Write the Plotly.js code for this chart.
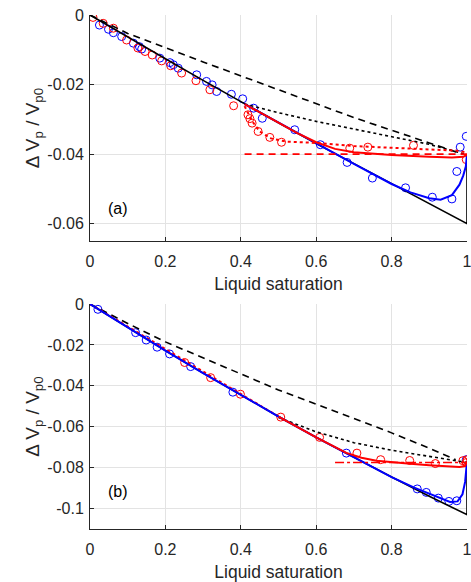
<!DOCTYPE html>
<html>
<head>
<meta charset="utf-8">
<script src="https://cdn.plot.ly/plotly-3.0.1.min.js"></script>
<style>html,body{margin:0;padding:0;background:#fff;}#chart{width:471px;height:582px;}</style>
</head>
<body>
<div id="chart"></div>
<script>
// ---------- Panel (a) data ----------
const aBlueCircX = [0.025,0.049,0.062,0.084,0.115,0.131,0.137,0.185,0.212,0.221,0.234,0.283,0.309,0.324,0.336,0.375,0.405,0.434,0.457,0.543,0.611,0.682,0.749,0.837,0.908,0.960,0.973,0.982,0.998];
const aBlueCircY = [-0.0029,-0.0041,-0.0051,-0.0062,-0.0081,-0.0091,-0.0098,-0.0124,-0.0137,-0.0143,-0.0153,-0.0172,-0.0191,-0.0201,-0.0220,-0.0228,-0.0241,-0.0268,-0.0297,-0.0330,-0.0373,-0.0424,-0.0469,-0.0497,-0.0524,-0.0529,-0.0450,-0.0380,-0.0349];
const aRedCircX = [0.008,0.035,0.062,0.097,0.127,0.146,0.165,0.190,0.214,0.243,0.281,0.318,0.381,0.419,0.424,0.430,0.446,0.477,0.508,0.689,0.737,0.858,0.998];
const aRedCircY = [-0.0007,-0.0024,-0.0038,-0.0072,-0.0095,-0.0105,-0.0115,-0.0132,-0.0146,-0.0167,-0.0189,-0.0215,-0.0261,-0.0287,-0.0298,-0.0311,-0.0335,-0.0352,-0.0366,-0.0383,-0.0380,-0.0375,-0.0416];
const aBlackX = [0,0.1,0.2,0.3,0.4,0.5,0.6,0.7,0.8,0.9,1,1];
const aBlackY = [0,-0.0064,-0.0126,-0.0188,-0.0250,-0.0310,-0.0370,-0.0428,-0.0486,-0.0544,-0.0600,-0.0405];
const aDashX = [0,0.1,0.3,0.5,0.7,0.9,0.98];
const aDashY = [0,-0.0053,-0.0135,-0.0215,-0.0295,-0.0368,-0.0397];
const aDotX = [0.41,0.5,0.6,0.7,0.8,0.9,1];
const aDotY = [-0.0256,-0.0281,-0.0306,-0.0328,-0.0350,-0.0372,-0.0402];
const aBlueLineX = [0.41,0.5,0.6,0.7,0.8,0.85,0.9,0.93,0.96,0.98,0.99,0.997,1];
const aBlueLineY = [-0.0256,-0.0310,-0.0370,-0.0428,-0.0486,-0.0510,-0.0527,-0.0531,-0.0518,-0.0488,-0.0462,-0.0435,-0.0400];
const aRedLineX = [0.41,0.45,0.5,0.55,0.6,0.65,0.7,0.8,0.9,0.96,0.99,1];
const aRedLineY = [-0.0256,-0.0280,-0.0310,-0.0340,-0.0366,-0.0385,-0.0395,-0.0403,-0.0408,-0.0410,-0.0408,-0.0402];
const aRedDashX = [0.41,1];
const aRedDashY = [-0.040,-0.040];
const aRedDotX = [0.41,0.43,0.45,0.48,0.52,0.6,0.7,0.8,0.9,0.97,1];
const aRedDotY = [-0.0262,-0.0305,-0.0335,-0.0355,-0.0364,-0.0368,-0.0377,-0.0382,-0.0386,-0.0390,-0.0395];

// ---------- Panel (b) data ----------
const bBlueCircX = [0.021,0.121,0.149,0.178,0.211,0.267,0.379,0.680,0.868,0.892,0.924,0.952,0.973,0.998];
const bBlueCircY = [-0.0026,-0.0140,-0.0176,-0.0211,-0.0244,-0.0306,-0.0431,-0.0729,-0.0904,-0.0921,-0.0949,-0.0965,-0.0962,-0.0761];
const bRedCircX = [0.251,0.320,0.399,0.506,0.609,0.708,0.771,0.848,0.916,0.989,0.998,1.0];
const bRedCircY = [-0.0286,-0.0360,-0.0441,-0.0553,-0.0652,-0.0729,-0.0761,-0.0765,-0.0780,-0.0766,-0.0775,-0.0762];
const bBlackX = [0,0.1,0.2,0.3,0.4,0.5,0.6,0.7,0.8,0.9,1,1];
const bBlackY = [0,-0.0116,-0.0228,-0.0338,-0.0446,-0.0550,-0.0652,-0.0750,-0.0846,-0.0940,-0.1030,-0.0770];
const bDashX = [0,0.1,0.2,0.3,0.42,0.5,0.6,0.7,0.8,0.9,0.97];
const bDashY = [0,-0.0095,-0.0185,-0.0263,-0.0355,-0.0420,-0.0490,-0.0560,-0.0630,-0.0705,-0.0761];
const bDotX = [0.5,0.6,0.7,0.8,0.9,0.98,1];
const bDotY = [-0.0555,-0.0625,-0.0678,-0.0715,-0.0745,-0.0770,-0.0775];
const bBlueLineX = [0,0.1,0.2,0.3,0.4,0.5,0.6,0.7,0.8,0.86,0.9,0.93,0.955,0.975,0.988,0.995,1];
const bBlueLineY = [0,-0.0116,-0.0228,-0.0338,-0.0446,-0.0550,-0.0652,-0.0750,-0.0846,-0.0898,-0.0928,-0.0952,-0.0968,-0.0965,-0.0930,-0.0870,-0.0770];
const bRedLineX = [0.5,0.6,0.68,0.72,0.76,0.8,0.85,0.9,0.95,0.98,0.995,1];
const bRedLineY = [-0.0550,-0.0652,-0.0728,-0.0752,-0.0766,-0.0774,-0.0781,-0.0788,-0.0794,-0.0797,-0.0792,-0.0770];
const bRedDotX = [0,0.5];
const bRedDotY = [0,-0.0550];
const bRedDashDotX = [0.65,1];
const bRedDashDotY = [-0.0775,-0.0775];

// ---------- Ticks / labels ----------
const xTickVals = [0,0.2,0.4,0.6,0.8,1];
const xTickText = ['0','0.2','0.4','0.6','0.8','1'];
const aYTickVals = [0,-0.02,-0.04,-0.06];
const aYTickText = ['0','-0.02','-0.04','-0.06'];
const bYTickVals = [0,-0.02,-0.04,-0.06,-0.08,-0.1];
const bYTickText = ['0','-0.02','-0.04','-0.06','-0.08','-0.1'];
const xTitle = 'Liquid saturation';
const yTitle = '\u0394 V<sub>p</sub> / V<sub>p0</sub>';
const panelLabels = ['(a)','(b)'];

const BLUE = '#0000ff', RED = '#ff0000', BLACK = '#000000';

function circ(x, y, c, xa, ya) {
  return {x, y, xaxis: xa, yaxis: ya, type: 'scatter', mode: 'markers', hoverinfo: 'skip',
    marker: {symbol: 'circle-open', size: 8, color: c, line: {width: 1, color: c}}, showlegend: false};
}
function line(x, y, c, w, dash, xa, ya) {
  return {x, y, xaxis: xa, yaxis: ya, type: 'scatter', mode: 'lines', hoverinfo: 'skip',
    line: {color: c, width: w, dash: dash}, showlegend: false};
}

const traces = [
  circ(aBlueCircX, aBlueCircY, BLUE, 'x', 'y'),
  circ(aRedCircX, aRedCircY, RED, 'x', 'y'),
  line(aDashX, aDashY, BLACK, 1.6, '7px,5px', 'x', 'y'),
  line(aDotX, aDotY, BLACK, 1.6, 'dot', 'x', 'y'),
  line(aBlackX, aBlackY, BLACK, 1.6, 'solid', 'x', 'y'),
  line(aBlueLineX, aBlueLineY, BLUE, 2, 'solid', 'x', 'y'),
  line(aRedDotX, aRedDotY, RED, 2, 'dot', 'x', 'y'),
  line(aRedDashX, aRedDashY, RED, 1.6, '7px,5px', 'x', 'y'),
  line(aRedLineX, aRedLineY, RED, 2, 'solid', 'x', 'y'),

  circ(bBlueCircX, bBlueCircY, BLUE, 'x2', 'y2'),
  circ(bRedCircX, bRedCircY, RED, 'x2', 'y2'),
  line(bDashX, bDashY, BLACK, 1.6, '7px,5px', 'x2', 'y2'),
  line(bDotX, bDotY, BLACK, 1.6, 'dot', 'x2', 'y2'),
  line(bBlackX, bBlackY, BLACK, 1.6, 'solid', 'x2', 'y2'),
  line(bRedDotX, bRedDotY, RED, 2, 'dot', 'x2', 'y2'),
  line(bBlueLineX, bBlueLineY, BLUE, 2, 'solid', 'x2', 'y2'),
  line(bRedDashDotX, bRedDashDotY, RED, 1.6, 'dashdot', 'x2', 'y2'),
  line(bRedLineX, bRedLineY, RED, 2, 'solid', 'x2', 'y2')
];

const FONT = 'Liberation Sans, Arial, sans-serif';
const AXC = '#262626';
function xaxis(anchor) {
  return {anchor, domain: [0, 1], range: [0, 1], tickvals: xTickVals, ticktext: xTickText,
    showgrid: true, gridcolor: '#e3e3e3', gridwidth: 1, zeroline: false,
    showline: true, linecolor: AXC, linewidth: 1, ticks: 'inside', ticklen: 4, tickcolor: AXC,
    ticklabelstandoff: 6, ticklabeloverflow: 'allow',
    tickfont: {family: FONT, size: 16, color: AXC}, fixedrange: true,
    title: {text: xTitle, font: {family: FONT, size: 17.5, color: AXC}, standoff: 8}};
}
function yaxis(anchor, dom, rng, tv, tt) {
  return {anchor, domain: dom, range: rng, tickvals: tv, ticktext: tt,
    showgrid: true, gridcolor: '#e3e3e3', gridwidth: 1, zeroline: false,
    showline: true, linecolor: AXC, linewidth: 1, ticks: 'inside', ticklen: 4, tickcolor: AXC,
    ticklabelstandoff: 2, ticklabeloverflow: 'allow',
    tickfont: {family: FONT, size: 16, color: AXC}, fixedrange: true,
    title: {text: yTitle, font: {family: FONT, size: 19, color: AXC}, standoff: 2}};
}

const layout = {
  width: 471, height: 582,
  margin: {l: 90, r: 4, t: 15, b: 53},
  paper_bgcolor: '#ffffff', plot_bgcolor: '#ffffff',
  showlegend: false,
  xaxis: xaxis('y'),
  yaxis: yaxis('x', [0.5603, 1], [-0.065, 0], aYTickVals, aYTickText),
  xaxis2: xaxis('y2'),
  yaxis2: yaxis('x2', [0, 0.4377], [-0.11, 0], bYTickVals, bYTickText),
  annotations: [
    {xref: 'x', yref: 'y', x: 0.074, y: -0.0557, text: panelLabels[0], showarrow: false,
      font: {family: FONT, size: 16, color: '#000'}},
    {xref: 'x2', yref: 'y2', x: 0.074, y: -0.0916, text: panelLabels[1], showarrow: false,
      font: {family: FONT, size: 16, color: '#000'}}
  ]
};

Plotly.newPlot('chart', traces, layout, {staticPlot: true, displayModeBar: false});
</script>
</body>
</html>
